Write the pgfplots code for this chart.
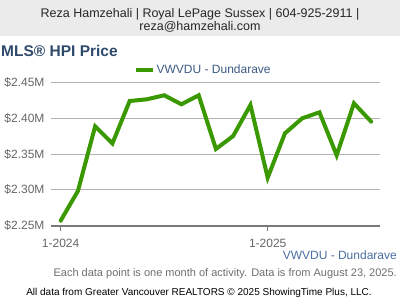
\documentclass[border=0pt]{standalone}
\usepackage{pgfplots}
\pgfplotsset{compat=1.18}
\usepackage{fontspec}
\setmainfont{Liberation Sans}
\definecolor{hdrbg}{RGB}{235,235,235}
\definecolor{ttl}{RGB}{47,74,107}
\definecolor{lgreen}{RGB}{58,152,0}
\definecolor{gridc}{RGB}{178,178,178}
\definecolor{axc}{RGB}{120,120,120}
\definecolor{tickc}{RGB}{102,102,102}
\definecolor{legc}{RGB}{60,90,130}
\definecolor{blu}{RGB}{74,110,160}
\definecolor{foot}{RGB}{110,110,110}
\begin{document}
\begin{tikzpicture}
\path[use as bounding box] (0pt,0pt) rectangle (400pt,-300pt);
\fill[hdrbg] (0pt,0pt) rectangle (400pt,-36pt);
\node[anchor=base,inner sep=0,text=black!85,font=\fontsize{12.5}{14}\selectfont] at (200pt,-17.5pt) {Reza Hamzehali | Royal LePage Sussex | 604-925-2911 |};
\node[anchor=base,inner sep=0,text=black!85,font=\fontsize{12.5}{14}\selectfont] at (200pt,-30.5pt) {reza@hamzehali.com};
\node[anchor=base west,inner sep=0,text=ttl,font=\fontsize{15.5}{18}\selectfont\bfseries] at (1pt,-56pt) {MLS® HPI Price};
\begin{axis}[
  at={(51pt,-225.7pt)}, anchor=south west,
  scale only axis, width=329pt, height=143pt,
  xmin=-0.56, xmax=18.51, ymin=2.25, ymax=2.45,
  axis x line*=bottom, axis y line*=left,
  x axis line style={draw=axc, line width=2pt, -},
  y axis line style={draw=none},
  ytick={2.25,2.30,2.35,2.40,2.45},
  yticklabels={\$2.25M,\$2.30M,\$2.35M,\$2.40M,\$2.45M},
  ytick style={draw=none},
  xtick={0,12}, xticklabels={1-2024,1-2025},
  xtick align=outside, major tick length=5pt,
  xtick style={draw=axc, line width=1.5pt},
  ymajorgrids, grid style={draw=gridc, line width=1pt},
  tick label style={text=tickc, font=\fontsize{12}{14}\selectfont},
  yticklabel style={xshift=-3pt},
  xticklabel style={yshift=-5pt},
  clip=false,
  legend style={at={(0.252,1.089)}, anchor=west, draw=none, fill=none, inner sep=0pt,
    font=\fontsize{12}{14}\selectfont, text=legc},
  legend image code/.code={\draw[#1, line width=3.5pt, line cap=butt] (0pt,0pt) -- (17pt,0pt);},
]
\addplot[lgreen, line width=4pt, line join=miter, line cap=round, mark=none] coordinates {
(0,2.257) (1,2.2985) (2,2.389) (3,2.365) (4,2.4244) (5,2.4268) (6,2.4324)
(7,2.4198) (8,2.4324) (9,2.3573) (10,2.3755) (11,2.4188) (12,2.3171)
(13,2.3792) (14,2.4002) (15,2.4086) (16,2.3485) (17,2.4212) (18,2.3955)
};
\addlegendentry{VWVDU - Dundarave}
\end{axis}
\node[anchor=base east,inner sep=0,text=blu,font=\fontsize{12}{14}\selectfont] at (397pt,-259pt) {VWVDU - Dundarave};
\node[anchor=base east,inner sep=0,text=foot,font=\fontsize{11}{13}\selectfont] at (397pt,-276pt) {Each data point is one month of activity. Data is from August 23, 2025.};
\node[anchor=base,inner sep=0,text=black,font=\fontsize{10}{12}\selectfont] at (199pt,-295pt) {All data from Greater Vancouver REALTORS © 2025 ShowingTime Plus, LLC.};
\end{tikzpicture}
\end{document}
